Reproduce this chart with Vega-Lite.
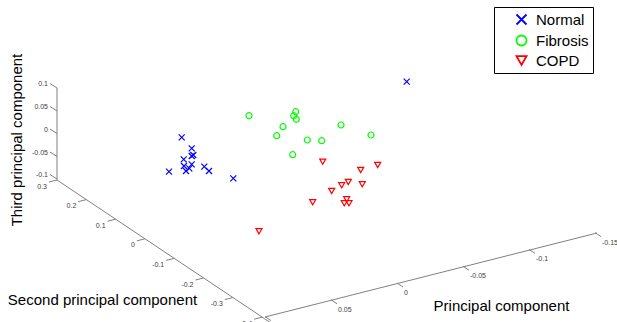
{
  "$schema": "https://vega.github.io/schema/vega-lite/v6.json",
  "width": 617,
  "height": 322,
  "padding": 0,
  "autosize": "none",
  "background": "white",
  "config": {"view": {"stroke": null}, "font": "Liberation Sans"},
  "datasets": {
    "pts": [
      {"u": 181.7, "v": 137.3, "group": "Normal"},
      {"u": 191.7, "v": 148.3, "group": "Normal"},
      {"u": 183.7, "v": 159.3, "group": "Normal"},
      {"u": 191.7, "v": 156, "group": "Normal"},
      {"u": 193.3, "v": 155, "group": "Normal"},
      {"u": 184, "v": 166, "group": "Normal"},
      {"u": 191.7, "v": 164.3, "group": "Normal"},
      {"u": 189.3, "v": 168.3, "group": "Normal"},
      {"u": 186, "v": 171, "group": "Normal"},
      {"u": 169, "v": 171.7, "group": "Normal"},
      {"u": 204.3, "v": 166.7, "group": "Normal"},
      {"u": 209, "v": 171, "group": "Normal"},
      {"u": 233.3, "v": 178.3, "group": "Normal"},
      {"u": 406.7, "v": 81.7, "group": "Normal"},
      {"u": 249, "v": 115.7, "group": "Fibrosis"},
      {"u": 295.7, "v": 111.7, "group": "Fibrosis"},
      {"u": 293.7, "v": 115.7, "group": "Fibrosis"},
      {"u": 296.3, "v": 119.3, "group": "Fibrosis"},
      {"u": 283, "v": 126.7, "group": "Fibrosis"},
      {"u": 276.7, "v": 135.7, "group": "Fibrosis"},
      {"u": 307.3, "v": 140, "group": "Fibrosis"},
      {"u": 321.7, "v": 140.7, "group": "Fibrosis"},
      {"u": 341, "v": 125, "group": "Fibrosis"},
      {"u": 371, "v": 135, "group": "Fibrosis"},
      {"u": 292.7, "v": 154.7, "group": "Fibrosis"},
      {"u": 322.7, "v": 161.7, "group": "COPD"},
      {"u": 377.7, "v": 165, "group": "COPD"},
      {"u": 360.7, "v": 170, "group": "COPD"},
      {"u": 348.3, "v": 182, "group": "COPD"},
      {"u": 341.7, "v": 185.3, "group": "COPD"},
      {"u": 362.3, "v": 184.3, "group": "COPD"},
      {"u": 331.7, "v": 191, "group": "COPD"},
      {"u": 312.7, "v": 202.3, "group": "COPD"},
      {"u": 346.7, "v": 199.3, "group": "COPD"},
      {"u": 344.3, "v": 203.3, "group": "COPD"},
      {"u": 349, "v": 203.3, "group": "COPD"},
      {"u": 259, "v": 231.3, "group": "COPD"}
    ],
    "box": [
      {"u": 494.5, "v": 7.5, "u2": 593.5, "v2": 73.5}
    ],
    "lines": [
      {"u": 57, "v": 88, "u2": 57, "v2": 180},
      {"u": 57, "v": 180, "u2": 274, "v2": 325},
      {"u": 265, "v": 317, "u2": 597, "v2": 233},
      {"u": 57, "v": 88, "u2": 50, "v2": 83.5},
      {"u": 57, "v": 111, "u2": 50, "v2": 106.5},
      {"u": 57, "v": 133.5, "u2": 50, "v2": 129},
      {"u": 57, "v": 156.5, "u2": 50, "v2": 152},
      {"u": 57, "v": 179, "u2": 50, "v2": 174.5},
      {"u": 57, "v": 180, "u2": 49, "v2": 182},
      {"u": 86.3, "v": 199.6, "u2": 78.3, "v2": 201.6},
      {"u": 115.6, "v": 219.2, "u2": 107.6, "v2": 221.2},
      {"u": 144.9, "v": 238.8, "u2": 136.9, "v2": 240.8},
      {"u": 174.2, "v": 258.4, "u2": 166.2, "v2": 260.4},
      {"u": 203.5, "v": 278, "u2": 195.5, "v2": 280},
      {"u": 232.8, "v": 297.6, "u2": 224.8, "v2": 299.6},
      {"u": 262.1, "v": 317.2, "u2": 254.1, "v2": 319.2},
      {"u": 265, "v": 316.6, "u2": 271, "v2": 320.6},
      {"u": 331, "v": 299.8, "u2": 337, "v2": 303.8},
      {"u": 397, "v": 283, "u2": 403, "v2": 287},
      {"u": 463, "v": 266.2, "u2": 469, "v2": 270.2},
      {"u": 529, "v": 249.4, "u2": 535, "v2": 253.4},
      {"u": 595, "v": 232.6, "u2": 601, "v2": 236.6}
    ],
    "rlabels": [
      {"u": 48, "v": 84, "t": "0.1"},
      {"u": 48, "v": 107, "t": "0.05"},
      {"u": 48, "v": 129.5, "t": "0"},
      {"u": 48, "v": 152.5, "t": "-0.05"},
      {"u": 48, "v": 175, "t": "-0.1"},
      {"u": 47, "v": 186.5, "t": "0.3"},
      {"u": 76.3, "v": 206.1, "t": "0.2"},
      {"u": 105.6, "v": 225.7, "t": "0.1"},
      {"u": 134.9, "v": 245.3, "t": "0"},
      {"u": 164.2, "v": 264.9, "t": "-0.1"},
      {"u": 193.5, "v": 284.5, "t": "-0.2"},
      {"u": 222.8, "v": 304.1, "t": "-0.3"},
      {"u": 252.1, "v": 323.7, "t": "-0.4"}
    ],
    "llabels": [
      {"u": 272, "v": 326.6, "t": "0.1"},
      {"u": 338, "v": 309.8, "t": "0.05"},
      {"u": 404, "v": 293, "t": "0"},
      {"u": 470, "v": 276.2, "t": "-0.05"},
      {"u": 536, "v": 259.4, "t": "-0.1"},
      {"u": 602, "v": 242.6, "t": "-0.15"}
    ],
    "titles": [
      {"u": 17, "v": 140, "t": "Third principal component", "a": 270},
      {"u": 102.5, "v": 300, "t": "Second principal component", "a": 0},
      {"u": 501.5, "v": 306, "t": "Principal component", "a": 0}
    ]
  },
  "layer": [
    {
      "data": {"name": "box"},
      "mark": {"type": "rect", "fill": "white", "stroke": "black", "strokeWidth": 1},
      "encoding": {
        "x": {"field": "u", "type": "quantitative", "scale": {"domain": [0, 617], "nice": false, "zero": false}, "axis": null},
        "y": {"field": "v", "type": "quantitative", "scale": {"domain": [0, 322], "nice": false, "zero": false, "reverse": true}, "axis": null},
        "x2": {"field": "u2"},
        "y2": {"field": "v2"}
      }
    },
    {
      "data": {"name": "lines"},
      "mark": {"type": "rule", "color": "#808080", "strokeWidth": 1},
      "encoding": {
        "x": {"field": "u", "type": "quantitative"},
        "y": {"field": "v", "type": "quantitative"},
        "x2": {"field": "u2"},
        "y2": {"field": "v2"}
      }
    },
    {
      "data": {"name": "rlabels"},
      "mark": {"type": "text", "align": "right", "baseline": "middle", "fontSize": 7, "color": "#404040"},
      "encoding": {
        "x": {"field": "u", "type": "quantitative"},
        "y": {"field": "v", "type": "quantitative"},
        "text": {"field": "t"}
      }
    },
    {
      "data": {"name": "llabels"},
      "mark": {"type": "text", "align": "left", "baseline": "middle", "fontSize": 7, "color": "#404040"},
      "encoding": {
        "x": {"field": "u", "type": "quantitative"},
        "y": {"field": "v", "type": "quantitative"},
        "text": {"field": "t"}
      }
    },
    {
      "data": {"name": "titles"},
      "mark": {"type": "text", "align": "center", "baseline": "middle", "fontSize": 15, "color": "black"},
      "encoding": {
        "x": {"field": "u", "type": "quantitative"},
        "y": {"field": "v", "type": "quantitative"},
        "text": {"field": "t"},
        "angle": {"field": "a", "type": "quantitative", "scale": null}
      }
    },
    {
      "data": {"name": "pts"},
      "mark": {"type": "point", "filled": false, "strokeWidth": 1.2, "size": 36, "opacity": 1},
      "encoding": {
        "x": {"field": "u", "type": "quantitative"},
        "y": {"field": "v", "type": "quantitative"},
        "color": {
          "field": "group", "type": "nominal",
          "scale": {"domain": ["Normal", "Fibrosis", "COPD"], "range": ["#0000ff", "#00ff00", "#ff0000"]},
          "legend": {
            "title": null, "orient": "none", "legendX": 494, "legendY": 7,
            "strokeColor": null, "fillColor": null, "padding": 5,
            "symbolSize": 100, "symbolStrokeWidth": 1.8, "symbolOffset": 15,
            "labelFontSize": 15, "labelFont": "Liberation Sans", "labelColor": "black",
            "rowPadding": 2, "labelOffset": 7
          }
        },
        "shape": {
          "field": "group", "type": "nominal",
          "scale": {"domain": ["Normal", "Fibrosis", "COPD"], "range": ["M-1,-1L1,1M-1,1L1,-1", "circle", "triangle-down"]}
        }
      }
    }
  ]
}
